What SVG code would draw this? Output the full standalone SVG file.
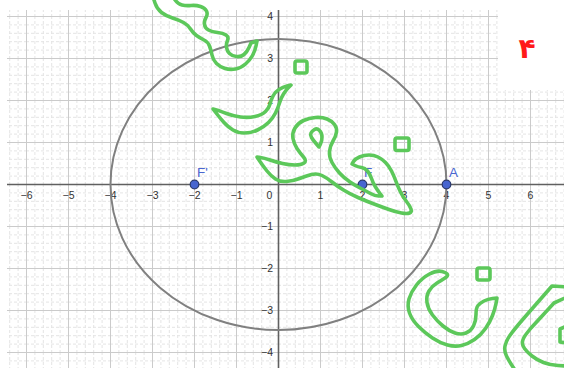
<svg xmlns="http://www.w3.org/2000/svg" width="564" height="368" viewBox="0 0 564 368">
<style>
.minor{stroke:#e4e4e4;stroke-width:1;stroke-dasharray:3 2}
.major{stroke:#cbcbcb;stroke-width:1}
.axis{stroke:#606060;stroke-width:1.6}
.tick{font-family:"Liberation Sans",Arial,sans-serif;font-size:10.5px;fill:#333}
.tx{text-anchor:middle}
.ty{text-anchor:end}
.pt{fill:#4765d0;stroke:#2b3a6e;stroke-width:1.2}
.plab{font-family:"Liberation Sans",Arial,sans-serif;font-size:13.5px;fill:#4a66d0}
.ink{fill:none;stroke:#5cc85a;stroke-width:3.6;stroke-linejoin:round;stroke-linecap:round}
</style>
<defs>
<pattern id="grid" patternUnits="userSpaceOnUse" x="278" y="184" width="42" height="42">
<line class="minor" x1="8.9" y1="0" x2="8.9" y2="42"/>
<line class="minor" x1="17.3" y1="0" x2="17.3" y2="42"/>
<line class="minor" x1="25.7" y1="0" x2="25.7" y2="42"/>
<line class="minor" x1="34.1" y1="0" x2="34.1" y2="42"/>
<line class="minor" x1="0" y1="8.9" x2="42" y2="8.9"/>
<line class="minor" x1="0" y1="17.3" x2="42" y2="17.3"/>
<line class="minor" x1="0" y1="25.7" x2="42" y2="25.7"/>
<line class="minor" x1="0" y1="34.1" x2="42" y2="34.1"/>
<line class="major" x1="0.5" y1="0" x2="0.5" y2="42"/>
<line class="major" x1="0" y1="0.5" x2="42" y2="0.5"/>
</pattern>
</defs>
<rect width="564" height="368" fill="#fff"/>
<g id="grid-area">
<rect x="7" y="10" width="557" height="358" fill="url(#grid)"/>
<rect x="498" y="0" width="66" height="90" fill="#fff"/>
</g>
<g id="axes">
<line class="axis" x1="7" y1="184.5" x2="564" y2="184.5"/>
<line class="axis" x1="278.5" y1="10" x2="278.5" y2="368"/>
</g>
<g id="x-labels" class="tick tx">
<text x="26.5" y="199">−6</text>
<text x="68.5" y="199">−5</text>
<text x="110.5" y="199">−4</text>
<text x="152.5" y="199">−3</text>
<text x="194.5" y="199">−2</text>
<text x="236.5" y="199">−1</text>
<text x="269.5" y="199">0</text>
<text x="320.5" y="199">1</text>
<text x="362.5" y="199">2</text>
<text x="404.5" y="199">3</text>
<text x="446.5" y="199">4</text>
<text x="488.5" y="199">5</text>
<text x="530.5" y="199">6</text>
</g>
<g id="y-labels" class="tick ty">
<text x="273" y="20">4</text>
<text x="273" y="62">3</text>
<text x="273" y="104">2</text>
<text x="273" y="146">1</text>
<text x="273" y="230">−1</text>
<text x="273" y="272">−2</text>
<text x="273" y="314">−3</text>
<text x="273" y="356">−4</text>
</g>
<g id="ellipse">
<ellipse cx="278.5" cy="184.5" rx="168" ry="145.5" fill="none" stroke="#808080" stroke-width="2"/>
</g>
<g id="point-Fp">
<circle class="pt" cx="194.5" cy="184.5" r="4.3"/>
<text class="plab" x="197" y="177">F'</text>
</g>
<g id="point-F">
<circle class="pt" cx="362.5" cy="184.5" r="4.3"/>
<text class="plab" x="364" y="177">F</text>
</g>
<g id="point-A">
<circle class="pt" cx="446.5" cy="184.5" r="4.3"/>
<text class="plab" x="449" y="177">A</text>
</g>
<g id="handwriting">
<path class="ink" d="M173,-3 L175.5,0.5 Q178,4 182,5 Q186,6 191,5.5 Q196,5 200.5,6.5 Q205,8 206.5,11 Q208,14 206,17.5 Q204,21 204.5,24.5 Q205,28 208.5,30 Q212,32 217.5,32.5 Q223,33 226,35 Q229,37 227.5,40.5 Q226,44 226.5,47.5 Q227,51 229.5,53.5 Q232,56 236.5,56.5 Q241,57 244,54.5 Q247,52 249,47.5 L251,43 L257,41 L256,46 Q255,51 252.5,55.5 Q250,60 245.5,64 Q241,68 235.5,69 Q230,70 225,68.5 Q220,67 216.5,63.5 Q213,60 212,55 Q211,50 209.5,46 Q208,42 204,40 Q200,38 196.5,35.5 Q193,33 190.5,29 Q188,25 183.5,22.5 Q179,20 172.5,18 Q166,16 161.5,12.5 Q157,9 155,3 L153,-3"/>
<rect class="ink" x="295" y="61" width="12" height="12" rx="2"/>
<path class="ink" d="M213,109 L216.5,113.5 Q220,118 224,122.5 Q228,127 233,130 Q238,133 244.5,133 Q251,133 257.5,130 Q264,127 268.5,122.5 Q273,118 275.5,113 Q278,108 279.5,103 Q281,98 283.5,94 Q286,90 288.5,87.5 L291,85 L287,86 Q283,87 279,89.5 Q275,92 273,96 Q271,100 270,104 Q269,108 265.5,111.5 Q262,115 255,116.5 Q248,118 240.5,117 Q233,116 226.5,113.5 Q220,111 216.5,110 Z"/>
<path class="ink" d="M257,157 L260,161.5 Q263,166 267,171 Q271,176 275.5,179 Q280,182 286.5,181.5 Q293,181 299.5,178.5 Q306,176 311.5,174.5 Q317,173 322,175.5 Q327,178 332,182 Q337,186 343.5,190 Q350,194 358,197.5 Q366,201 374,204 Q382,207 389,209.5 Q396,212 401.5,213 Q407,214 409.5,213 Q412,212 411,209 Q410,206 406.5,201.5 Q403,197 400.5,192 Q398,187 396,181.5 Q394,176 391.5,171 Q389,166 385.5,162.5 Q382,159 378,157 Q374,155 369,155 Q364,155 359.5,157 Q355,159 353.5,161.5 L352,164 L355,165.5 Q358,167 361.5,167.5 Q365,168 367.5,171 Q370,174 371.5,178.5 Q373,183 375.5,187 Q378,191 380,193.5 L382,196 L378.5,196 Q375,196 370.5,193.5 Q366,191 361,188.5 Q356,186 350,182 Q344,178 339.5,173 Q335,168 332,162.5 Q329,157 329.5,151.5 Q330,146 333,141 Q336,136 336.5,132 Q337,128 334.5,124.5 Q332,121 327,119 Q322,117 315.5,117.5 Q309,118 303.5,120.5 Q298,123 295,128 Q292,133 293,138.5 Q294,144 297,148.5 Q300,153 303.5,157 Q307,161 304,163 Q301,165 295,165 Q289,165 282.5,163.5 Q276,162 270,160 Q264,158 260.5,157.5 L257,157 Z"/>
<path class="ink" d="M319,147 L316,143.5 Q313,140 311.5,137.5 Q310,135 311,133 Q312,131 314.5,129.5 Q317,128 319.5,130.5 Q322,133 322,137 Q322,141 320.5,144 L319,147 Z"/>
<rect class="ink" x="395" y="138" width="14" height="12.5" rx="2"/>
<path class="ink" d="M447.5,274.5 Q447,273 442,271.5 Q437,270 429.5,274 Q422,278 416.5,285 Q411,292 409,299 Q407,306 409.5,313 Q412,320 418.5,326.5 Q425,333 432.5,338 Q440,343 447.5,345 Q455,347 461.5,345.5 Q468,344 474.5,339.5 Q481,335 485.5,328.5 Q490,322 492.5,315.5 Q495,309 496,303.5 L497,298 L492.5,298.5 Q488,299 484,301 Q480,303 478,305.5 Q476,308 476,314.5 Q476,321 473.5,326 Q471,331 466,333 Q461,335 455,333 Q449,331 443,326 Q437,321 432.5,315 Q428,309 427,302.5 Q426,296 429,291 Q432,286 437,283 Q442,280 445,278 Q448,276 447.5,274.5 Z"/>
<rect class="ink" x="477" y="268" width="13" height="12" rx="2"/>
<path class="ink" d="M567,287 L552,286 L538,302 L531,310 Q524,318 518.5,324.5 Q513,331 509.5,336 Q506,341 505,346 Q504,351 506.5,356 Q509,361 512,365.5 L515,370"/>
<path class="ink" d="M567,297 L554,303 L543,315 L531,328 L527,333 Q523,338 522.5,341.5 Q522,345 524.5,348.5 Q527,352 532,356 Q537,360 543.5,362.5 Q550,365 558,365.5 L567,366"/>
<path class="ink" d="M567,326 L560,329 L560,342 L567,343"/>
</g>
<g id="number-label">
<text x="527" y="58" text-anchor="middle" font-family="'DejaVu Sans','Noto Sans',sans-serif" font-size="28" font-weight="bold" fill="#ff1a1a">۴</text>
</g>
</svg>
